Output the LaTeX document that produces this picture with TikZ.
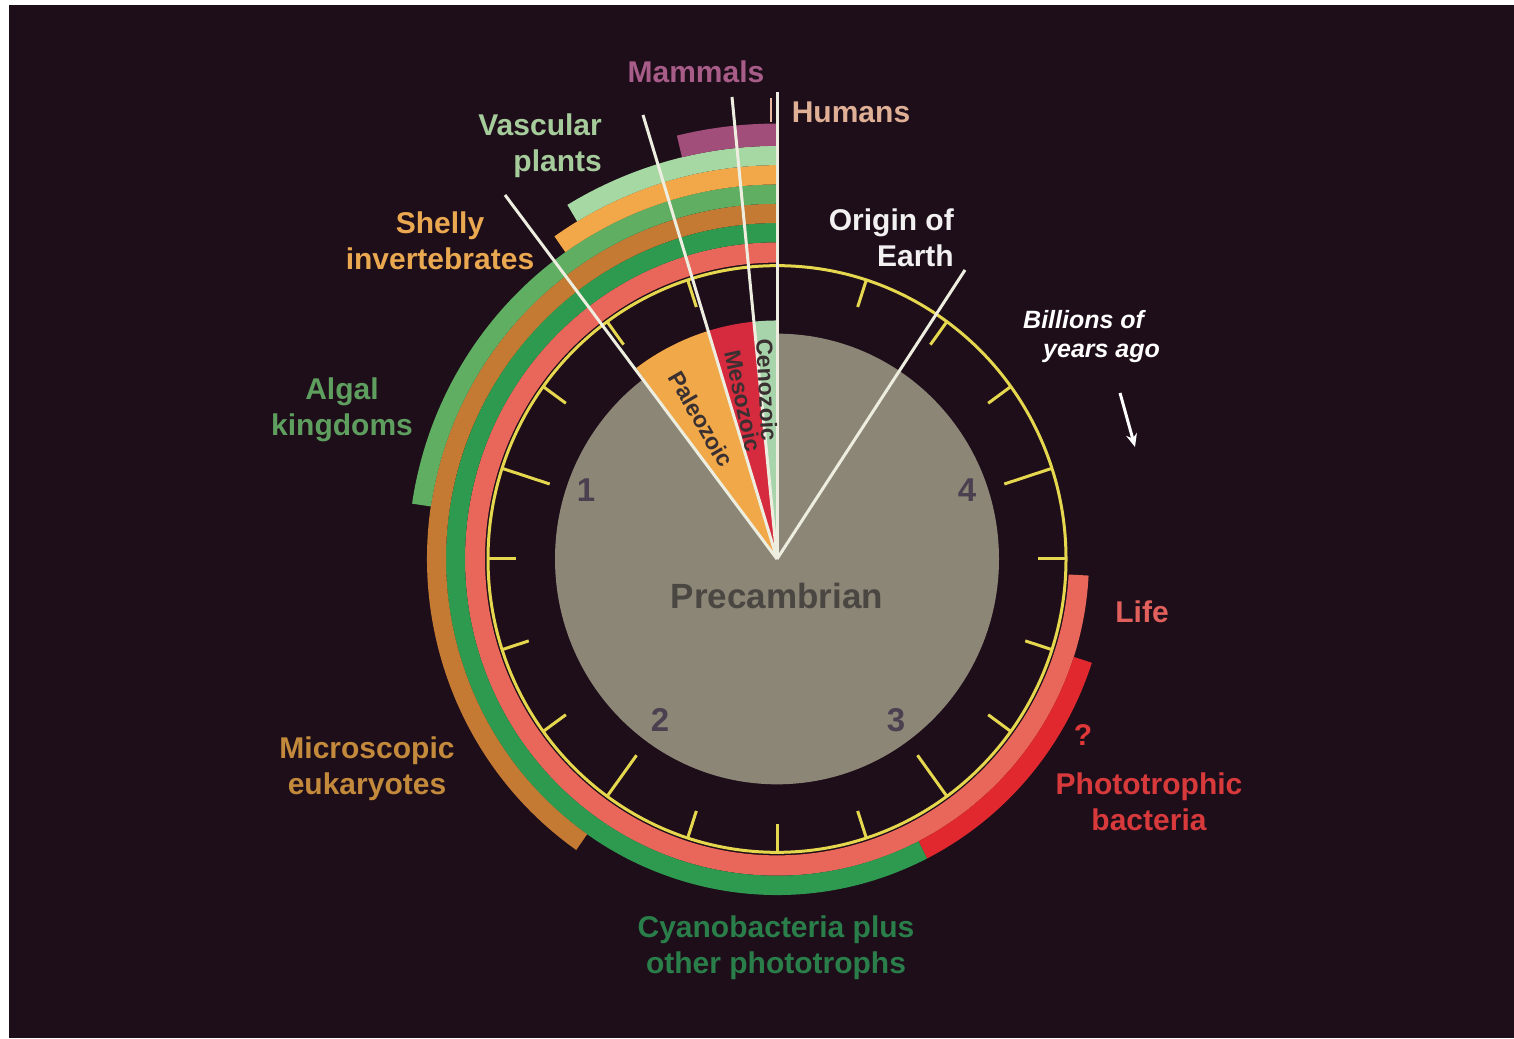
\documentclass[tikz,border=0pt]{standalone}
\usepackage{fontspec}
\setmainfont{Liberation Sans}
\usetikzlibrary{arrows.meta}
\definecolor{bgC}{HTML}{1E0E1A}
\definecolor{lifeC}{HTML}{E8665A}
\definecolor{cyanoC}{HTML}{2E9A50}
\definecolor{photoC}{HTML}{E0282E}
\definecolor{eukC}{HTML}{C47A32}
\definecolor{algalC}{HTML}{5FAE62}
\definecolor{shellC}{HTML}{F2A848}
\definecolor{vascC}{HTML}{A6D8A4}
\definecolor{mammC}{HTML}{A24E7A}
\definecolor{grayC}{HTML}{8C8676}
\definecolor{yellowC}{HTML}{E6D84E}
\definecolor{paleoC}{HTML}{F0A848}
\definecolor{mesoC}{HTML}{D62A3E}
\definecolor{cenoC}{HTML}{A8D4AC}
\definecolor{lineC}{HTML}{EEEEE0}
\definecolor{darkT}{HTML}{3A3032}
\definecolor{numC}{HTML}{4A4050}
\newcommand\annsec[5]{\fill[#1] (#2:#4pt) arc[start angle=#2,end angle=#3,radius=#4pt] -- (#3:#5pt) arc[start angle=#3,end angle=#2,radius=#5pt] -- cycle;}
\begin{document}
\begin{tikzpicture}[x=1pt,y=1pt,
  lbl/.style={font=\bfseries\fontsize{30}{36}\selectfont, align=center, inner sep=0pt},
  era/.style={font=\bfseries\fontsize{23}{27}\selectfont, text=darkT, inner sep=0pt},
  num/.style={font=\bfseries\fontsize{33}{36}\selectfont, text=numC, inner sep=0pt},
  tickline/.style={yellowC, line width=3pt},
  wl/.style={lineC, line width=3pt}]
\useasboundingbox (0,0) rectangle (1514,1038);
\fill[white] (0,0) rectangle (1514,1038);
\fill[bgC] (9,0) rectangle (1514,1033);
\coordinate (O) at (777,479);
\begin{scope}[shift={(O)}, yscale=1.015]
  % bands
  \annsec{lifeC}{90}{357}{292}{312}
  \annsec{cyanoC}{90}{297}{312}{331}
  \annsec{photoC}{297}{342}{312}{331}
  \annsec{eukC}{90}{235}{331}{350}
  \annsec{algalC}{90}{171.5}{350}{369}
  \annsec{shellC}{90}{125}{369}{388}
  \annsec{vascC}{90}{121}{388}{407}
  \annsec{mammC}{90}{103.5}{407}{429}
  % gray disc
  \fill[grayC] (0,0) circle[radius=222pt];
  % era wedges
  \fill[cenoC] (0,0) -- (90:235pt) arc[start angle=90,end angle=95.5,radius=235pt] -- cycle;
  \fill[mesoC] (0,0) -- (95.5:235pt) arc[start angle=95.5,end angle=106.8,radius=235pt] -- cycle;
  \fill[paleoC] (0,0) -- (106.8:235pt) arc[start angle=106.8,end angle=126.8,radius=235pt] -- cycle;
  % yellow scale
  \draw[yellowC, line width=3pt] (0,0) circle[radius=289pt];
  \foreach \k in {0,...,19}{
    \pgfmathsetmacro\ang{90+18*\k}
    \pgfmathsetmacro\rin{289-(mod(\k,4)==0 ? 50 : 28)}
    \draw[tickline] (\ang:289pt) -- (\ang:\rin pt);
  }
\end{scope}
% white radial lines
\coordinate (lH) at (777,946);
\coordinate (lC) at (732,941);
\coordinate (lM) at (643,923);
\coordinate (lP) at (505,843);
\coordinate (lE) at (965,768);
\draw[wl] (O) -- (lH);
\draw[wl] (O) -- (lC);
\draw[wl] (O) -- (lM);
\draw[wl] (O) -- (lP);
\draw[wl] (O) -- (lE);
% humans marker
\coordinate (hm1) at (771,940);
\coordinate (hm2) at (771,916);
\draw[line width=2pt, color={rgb,255:red,232;green,184;blue,160}] (hm1) -- (hm2);
% era texts
\node[era, rotate=-87] (ceno) at (767,648) {Cenozoic};
\node[era, rotate=-78] (meso) at (743,637) {Mesozoic};
\node[era, rotate=-60] (paleo) at (701,619) {Paleozoic};
\node[font=\bfseries\fontsize{35}{38}\selectfont, text={rgb,255:red,74;green,70;blue,66}, inner sep=0pt] (pre) at (777,442) {Precambrian};
% numbers
\node[num] (n1) at (586,548) {1};
\node[num] (n4) at (967,548) {4};
\node[num] (n2) at (660,318) {2};
\node[num] (n3) at (896,318) {3};
% labels
\node[lbl, text={rgb,255:red,168;green,92;blue,136}] (mam) at (696,966) {Mammals};
\node[lbl, text={rgb,255:red,224;green,176;blue,150}] (hum) at (851,926) {Humans};
\node[lbl, align=right, anchor=east, text={rgb,255:red,166;green,204;blue,156}] (vas) at (602,892) {Vascular\\plants};
\node[lbl, text={rgb,255:red,234;green,168;blue,80}] (she) at (440,797) {Shelly\\invertebrates};
\node[lbl, align=right, anchor=east, text={rgb,255:red,242;green,240;blue,240}] (ori) at (954,800) {Origin of\\Earth};
\node[font=\bfseries\itshape\fontsize{25}{29}\selectfont, align=left, anchor=west, text=white, inner sep=0pt] (bil) at (1023,701) {Billions of\\\hspace*{20pt}years ago};
\coordinate (ar1) at (1120,645);
\coordinate (ar2) at (1135,591);
\draw[white, line width=3pt, -{Stealth[length=13pt,width=11pt]}] (ar1) -- (ar2);
\node[lbl, text={rgb,255:red,94;green,158;blue,94}] (alg) at (342,628) {Algal\\kingdoms};
\node[lbl, text={rgb,255:red,196;green,138;blue,60}] (mic) at (367,269) {Microscopic\\eukaryotes};
\node[lbl, text={rgb,255:red,226;green,96;blue,92}] (life) at (1142,426) {Life};
\node[lbl, text={rgb,255:red,224;green,56;blue,56}] (qm) at (1083,303) {?};
\node[lbl, text={rgb,255:red,216;green,58;blue,60}] (pho) at (1149,236) {Phototrophic\\bacteria};
\node[lbl, text={rgb,255:red,42;green,126;blue,74}] (cya) at (776,90) {Cyanobacteria plus\\other phototrophs};
\end{tikzpicture}
\end{document}
